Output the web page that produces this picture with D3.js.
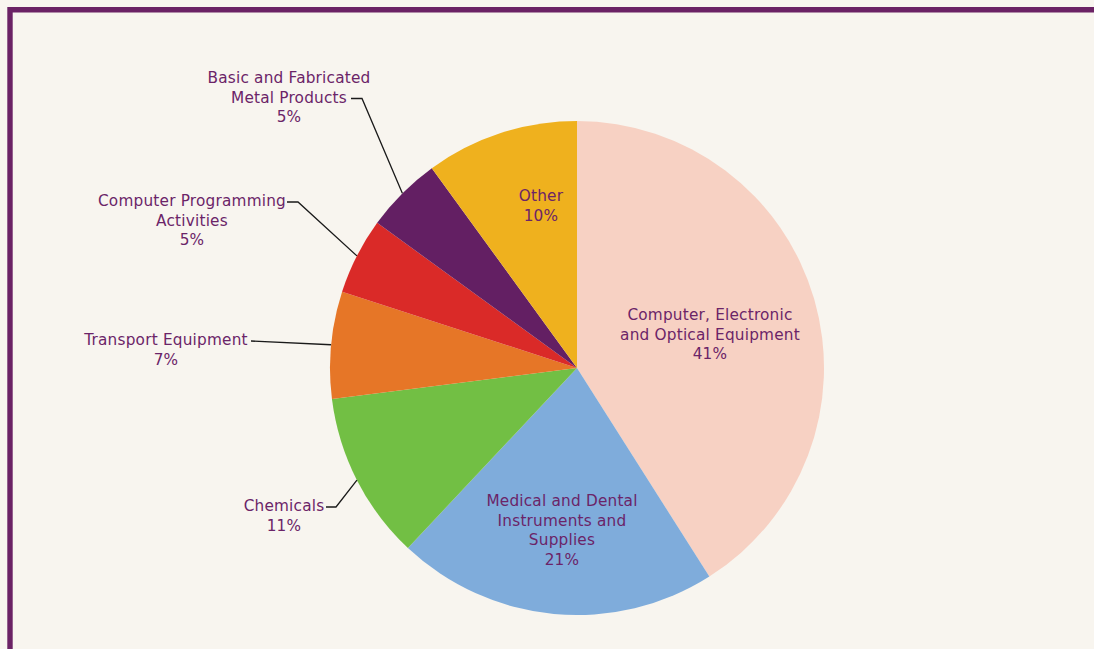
<!DOCTYPE html>
<html>
<head>
<meta charset="utf-8">
<script src="https://cdn.jsdelivr.net/npm/d3@7"></script>
<style>
html,body{margin:0;padding:0;background:#f8f5ef;}
svg{display:block;}
text{font-family:"DejaVu Sans",sans-serif;font-size:15.3px;letter-spacing:0.2px;fill:#6b2468;}
</style>
</head>
<body>
<svg id="chart" width="1094" height="649"></svg>
<script>
// ---- data ----
const categories = [
  "Computer, Electronic and Optical Equipment",
  "Medical and Dental Instruments and Supplies",
  "Chemicals",
  "Transport Equipment",
  "Computer Programming Activities",
  "Basic and Fabricated Metal Products",
  "Other"
];
const values = [41, 21, 11, 7, 5, 5, 10];
const labelLines = [
  ["Computer, Electronic", "and Optical Equipment"],
  ["Medical and Dental", "Instruments and", "Supplies"],
  ["Chemicals"],
  ["Transport Equipment"],
  ["Computer Programming", "Activities"],
  ["Basic and Fabricated", "Metal Products"],
  ["Other"]
];
const colors = ["#f7d1c3", "#7facdb", "#72bf44", "#e67627", "#da2a28", "#631f63", "#efb11e"];

// ---- layout ----
const W = 1094, H = 649;
const cx = 577, cy = 368, R = 247;
const lineH = 19.5;
const layout = [
  {inside: true, x: 710, y: 320},
  {inside: true, x: 562, y: 506},
  {inside: false, x: 284, y: 511, anchorLine: 0, lx1: 326, lx2: 336},
  {inside: false, x: 166, y: 345, anchorLine: 0, lx1: 251, lx2: 251},
  {inside: false, x: 192, y: 206, anchorLine: 0, lx1: 287, lx2: 298},
  {inside: false, x: 289, y: 83, anchorLine: 1, lx1: 351, lx2: 362},
  {inside: true, x: 541, y: 201}
];

const svg = d3.select("#chart");
svg.append("rect").attr("width", W).attr("height", H).attr("fill", "#f8f5ef");

// frame
svg.append("path")
  .attr("d", `M10,${H + 5} L10,9.8 L${W + 5},9.8`)
  .attr("fill", "none").attr("stroke", "#6b2265").attr("stroke-width", 5.4);

const pie = d3.pie().sort(null).value(d => d)
  .startAngle(0).endAngle(2 * Math.PI);
const arcs = pie(values);
const arc = d3.arc().innerRadius(0).outerRadius(R);
const edge = d3.arc().innerRadius(R).outerRadius(R);

const g = svg.append("g").attr("transform", `translate(${cx},${cy})`);
g.selectAll("path.slice").data(arcs).enter().append("path")
  .attr("class", "slice")
  .attr("d", arc)
  .attr("fill", (d, i) => colors[i]);

arcs.forEach((a, i) => {
  const L = layout[i];
  const lines = labelLines[i].concat([values[i] + "%"]);
  if (!L.inside) {
    const [ex, ey] = edge.centroid(a);
    const ly = L.y + L.anchorLine * lineH - 4;
    svg.append("polyline")
      .attr("points", `${L.lx1},${ly} ${L.lx2},${ly} ${cx + ex},${cy + ey}`)
      .attr("fill", "none").attr("stroke", "#1a1a1a").attr("stroke-width", 1.3);
  }
  lines.forEach((s, k) => {
    svg.append("text").attr("text-anchor", "middle")
      .attr("x", L.x).attr("y", L.y + k * lineH).text(s);
  });
});
</script>
</body>
</html>
